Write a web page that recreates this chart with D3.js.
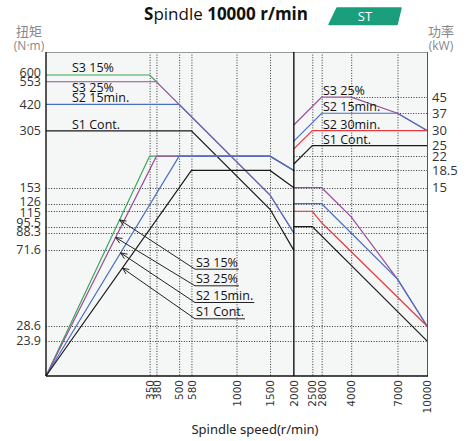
<!DOCTYPE html>
<html>
<head>
<meta charset="UTF-8" />
<title>Spindle 10000 r/min</title>
<script src="https://d3js.org/d3.v7.min.js"></script>
<style>
  body { margin: 0; background: #fff; }
  text { font-family: "Open Sans", "Noto Sans", sans-serif; }
</style>
</head>
<body>
<div id="main"></div>
<script>
// axis ticks
const speedTicks = [350, 380, 500, 580, 1000, 1500, 2000, 2500, 2800, 4000, 7000, 10000];
const torqueTicks = [600, 553, 420, 305, 153, 126, 115, 95.5, 88.3, 71.6, 28.6, 23.9];
const torqueGrid = [153, 126, 115, 95.5, 88.3, 71.6, 28.6, 23.9];
const powerTicks = [45, 37, 30, 25, 22, 18.5, 15];
// power grid lines: [kW, from speed]
const powerGrid = [[45, 4000], [37, 7000], [22, 2000], [18.5, 2000]];

// torque, low speed range [r/min, N·m]
const torqueS3_15 = [[100, 600], [350, 600], [380, 553]];
const torqueS3_25 = [[100, 553], [380, 553], [1500, 140], [2000, 88.3]];
const torqueS2_15 = [[100, 420], [500, 420], [1500, 140], [2000, 88.3]];
const torqueS1 = [[100, 305], [580, 305], [1500, 117.8], [2000, 71.6]];

// power, low speed range [r/min, kW] (rising from the origin)
const powerLowS3_15 = [[350, 22], [1500, 22], [2000, 18.5]];
const powerLowS3_25 = [[380, 22], [1500, 22], [2000, 18.5]];
const powerLowS2_15 = [[500, 22], [1500, 22], [2000, 18.5]];
const powerLowS1 = [[580, 18.5], [1500, 18.5], [2000, 15]];

// power, high speed range [r/min, kW]
const powerHighS3_25 = [[2000, 32.1], [2800, 45], [4000, 45], [7000, 37], [10000, 30]];
const powerHighS2_15 = [[2000, 26.4], [2800, 37], [7000, 37], [10000, 30]];
const powerHighS2_30 = [[2000, 24], [2500, 30], [10000, 30]];
const powerHighS1 = [[2000, 20], [2500, 25], [10000, 25]];

// torque, high speed range [r/min, N·m]
const torqueHighS3_25 = [[2000, 153], [2800, 153], [4000, 107.4], [7000, 50.5], [10000, 28.6]];
const torqueHighS2_15 = [[2000, 126], [2800, 126], [7000, 50.5], [10000, 28.6]];
const torqueHighS2_30 = [[2000, 115], [2500, 115], [2800, 100], [10000, 28.6]];
const torqueHighS1 = [[2000, 95.5], [2500, 95.5], [10000, 23.9]];

const leftLabels = ["S3 15%", "S3 25%", "S2 15min.", "S1 Cont."];
const rightLabels = ["S3 25%", "S2 15min.", "S2 30min.", "S1 Cont."];
const calloutLabels = ["S3 15%", "S3 25%", "S2 15min.", "S1 Cont."];

const green = "#3ba556", purple = "#9a4e98", blue = "#4a6fc2", red = "#e63a3e", black = "#1a1a1a";

const width = 473, height = 441;
const plotL = 46, plotR = 427, plotT = 52, plotB = 376;

const svg = d3.select("#main").append("svg")
  .attr("width", width)
  .attr("height", height);

const x = d3.scaleLog().domain([100, 10000]).range([plotL, plotR]);
const yT = d3.scaleLog().domain([15.6, 793]).range([plotB, plotT]);
const yP = d3.scaleLog().domain([15.6 / 10.2, 793 / 10.2]).range([plotB, plotT]);

// plot background
svg.append("rect")
  .attr("x", plotL).attr("y", plotT)
  .attr("width", plotR - plotL).attr("height", plotB - plotT)
  .attr("fill", "#f5f7f7");

// grid
const dots = "1,1.6";
svg.append("g").selectAll("line").data(speedTicks.filter(d => d != 2000 && d != 10000)).enter()
  .append("line")
  .attr("x1", d => x(d) + 0.5).attr("x2", d => x(d) + 0.5)
  .attr("y1", plotT).attr("y2", plotB)
  .attr("stroke", "#333").attr("stroke-width", 1).attr("stroke-dasharray", dots);

svg.append("g").selectAll("line").data(torqueGrid).enter()
  .append("line")
  .attr("x1", plotL).attr("x2", plotR)
  .attr("y1", d => Math.round(yT(d)) + 0.5).attr("y2", d => Math.round(yT(d)) + 0.5)
  .attr("stroke", "#333").attr("stroke-width", 1).attr("stroke-dasharray", dots);

svg.append("g").selectAll("line").data(powerGrid).enter()
  .append("line")
  .attr("x1", d => x(d[1])).attr("x2", plotR)
  .attr("y1", d => Math.round(yP(d[0])) + 0.5).attr("y2", d => Math.round(yP(d[0])) + 0.5)
  .attr("stroke", "#333").attr("stroke-width", 1).attr("stroke-dasharray", dots);

// curves
const lineT = d3.line().x(d => x(d[0])).y(d => yT(d[1]));
const lineP = d3.line().x(d => x(d[0])).y(d => yP(d[1]));
const origin = [x.domain()[0], yP.domain()[0]];

const curves = [
  { data: torqueS3_15, line: lineT, color: green },
  { data: torqueS3_25, line: lineT, color: purple },
  { data: torqueS2_15, line: lineT, color: blue },
  { data: torqueS1, line: lineT, color: black },
  { data: [origin].concat(powerLowS3_15), line: lineP, color: green },
  { data: [origin].concat(powerLowS3_25), line: lineP, color: purple },
  { data: [origin].concat(powerLowS2_15), line: lineP, color: blue },
  { data: [origin].concat(powerLowS1), line: lineP, color: black },
  { data: powerHighS3_25, line: lineP, color: purple },
  { data: powerHighS2_15, line: lineP, color: blue },
  { data: powerHighS2_30, line: lineP, color: red },
  { data: powerHighS1, line: lineP, color: black },
  { data: torqueHighS3_25, line: lineT, color: purple },
  { data: torqueHighS2_15, line: lineT, color: blue },
  { data: torqueHighS2_30, line: lineT, color: red },
  { data: torqueHighS1, line: lineT, color: black }
];

svg.append("g").selectAll("path").data(curves).enter()
  .append("path")
  .attr("d", d => d.line(d.data))
  .attr("fill", "none")
  .attr("stroke", d => d.color)
  .attr("stroke-width", 1.2);

// frame
svg.append("line").attr("x1", plotL).attr("x2", plotR).attr("y1", plotT + 0.5).attr("y2", plotT + 0.5)
  .attr("stroke", "#999").attr("stroke-width", 1);
svg.append("line").attr("x1", plotR + 0.5).attr("x2", plotR + 0.5).attr("y1", plotT).attr("y2", plotB)
  .attr("stroke", "#555").attr("stroke-width", 1);
svg.append("line").attr("x1", x(2000)).attr("x2", x(2000)).attr("y1", plotT).attr("y2", plotB)
  .attr("stroke", "#000").attr("stroke-width", 1.3);
svg.append("line").attr("x1", plotL).attr("x2", plotL).attr("y1", plotT).attr("y2", plotB)
  .attr("stroke", "#111").attr("stroke-width", 1.4);
svg.append("line").attr("x1", plotL).attr("x2", plotR + 1).attr("y1", plotB).attr("y2", plotB)
  .attr("stroke", "#111").attr("stroke-width", 1.4);

// tick labels (crowded torque labels nudged apart a little, as in the original)
const torqueNudge = { 600: -2.5, 553: 0.5, 126: -1.5, 115: 1.5, 95.5: -4, 88.3: -1 };
svg.append("g").selectAll("text").data(torqueTicks).enter()
  .append("text")
  .attr("x", 41).attr("y", d => yT(d) + (torqueNudge[d] || 0))
  .attr("dy", "0.33em")
  .attr("text-anchor", "end")
  .attr("font-size", 12.5).attr("fill", "#333")
  .text(d => d);

svg.append("g").selectAll("text").data(powerTicks).enter()
  .append("text")
  .attr("x", 432).attr("y", d => yP(d))
  .attr("dy", "0.35em")
  .attr("font-size", 13).attr("fill", "#333")
  .text(d => d);

svg.append("g").selectAll("text").data(speedTicks).enter()
  .append("text")
  .attr("transform", d => `translate(${x(d) + 0.5},380) rotate(-90)`)
  .attr("dy", "0.35em")
  .attr("text-anchor", "end")
  .style("font-family", "DejaVu Sans")
  .attr("font-size", 10.5).attr("fill", "#333")
  .text(d => d);

// axis titles
svg.append("text").attr("x", 255).attr("y", 434).attr("text-anchor", "middle")
  .style("font-family", "Noto Sans").attr("font-size", 13).attr("fill", "#222")
  .text("Spindle speed(r/min)");

svg.append("text").attr("x", 29).attr("y", 36).attr("text-anchor", "middle")
  .style("font-family", "Noto Sans CJK SC").attr("font-size", 13).attr("fill", "#888").text("扭矩");
svg.append("text").attr("x", 29).attr("y", 50).attr("text-anchor", "middle")
  .attr("font-size", 12).attr("fill", "#888").text("(N·m)");
svg.append("text").attr("x", 441).attr("y", 36).attr("text-anchor", "middle")
  .style("font-family", "Noto Sans CJK SC").attr("font-size", 13).attr("fill", "#888").text("功率");
svg.append("text").attr("x", 441).attr("y", 50).attr("text-anchor", "middle")
  .attr("font-size", 12).attr("fill", "#888").text("(kW)");

// title
const title = svg.append("text").attr("x", 226).attr("y", 20).attr("text-anchor", "middle")
  .attr("font-size", 17).attr("fill", "#111");
title.append("tspan").attr("font-weight", "bold").text("S");
title.append("tspan").text("pindle ");
title.append("tspan").attr("font-weight", "bold").text("10000 r/min");

// badge
svg.append("path")
  .attr("d", "M337,8 L401,8 L397,24.5 L329,24.5 Z")
  .attr("fill", "#1a9e7c")
  .attr("stroke", "#1a9e7c").attr("stroke-width", 1.5).attr("stroke-linejoin", "round");
svg.append("text").attr("x", 365).attr("y", 21).attr("text-anchor", "middle")
  .attr("font-size", 13).attr("fill", "#fff").text("ST");

// curve labels, left
const leftValues = [600, 553, 420, 305];
const leftOffsets = [-3, 10, -2, -1.5];
svg.append("g").selectAll("text").data(leftLabels).enter()
  .append("text")
  .attr("x", 72).attr("y", (d, i) => yT(leftValues[i]) + leftOffsets[i])
  .attr("font-size", 12.5).attr("fill", "#111")
  .text(d => d);

// curve labels, right
const rightValues = [45, 37, 30, 25];
svg.append("g").selectAll("text").data(rightLabels).enter()
  .append("text")
  .attr("x", 323).attr("y", (d, i) => yP(rightValues[i]) - 2)
  .attr("font-size", 12.5).attr("fill", "#111")
  .text(d => d);

// callouts pointing to the rising power lines
const calloutSeries = [powerLowS3_15, powerLowS3_25, powerLowS2_15, powerLowS1];
const calloutT = [0.71, 0.63, 0.56, 0.525];
const calloutY = [266.7, 283.3, 300, 316.3];
const cx = 196;

const callouts = svg.append("g");
calloutLabels.forEach((label, i) => {
  const p0 = [x(origin[0]), yP(origin[1])];
  const p1 = [x(calloutSeries[i][0][0]), yP(calloutSeries[i][0][1])];
  const tip = [p0[0] + calloutT[i] * (p1[0] - p0[0]), p0[1] + calloutT[i] * (p1[1] - p0[1])];

  const t = callouts.append("text")
    .attr("x", cx).attr("y", calloutY[i])
    .attr("font-size", 12.5).attr("fill", "#111")
    .text(label);
  const w = t.node().getComputedTextLength();
  const uy = calloutY[i] + 2.5;

  callouts.append("line")
    .attr("x1", cx - 1).attr("x2", cx + w + 1).attr("y1", uy).attr("y2", uy)
    .attr("stroke", "#222").attr("stroke-width", 1);
  callouts.append("line")
    .attr("x1", cx - 1).attr("y1", uy).attr("x2", tip[0]).attr("y2", tip[1])
    .attr("stroke", "#222").attr("stroke-width", 1);

  const a = Math.atan2(uy - tip[1], cx - 1 - tip[0]);
  [-0.4, 0.4].forEach(da => {
    callouts.append("line")
      .attr("x1", tip[0]).attr("y1", tip[1])
      .attr("x2", tip[0] + 7 * Math.cos(a + da)).attr("y2", tip[1] + 7 * Math.sin(a + da))
      .attr("stroke", "#222").attr("stroke-width", 1);
  });
});
</script>
</body>
</html>
